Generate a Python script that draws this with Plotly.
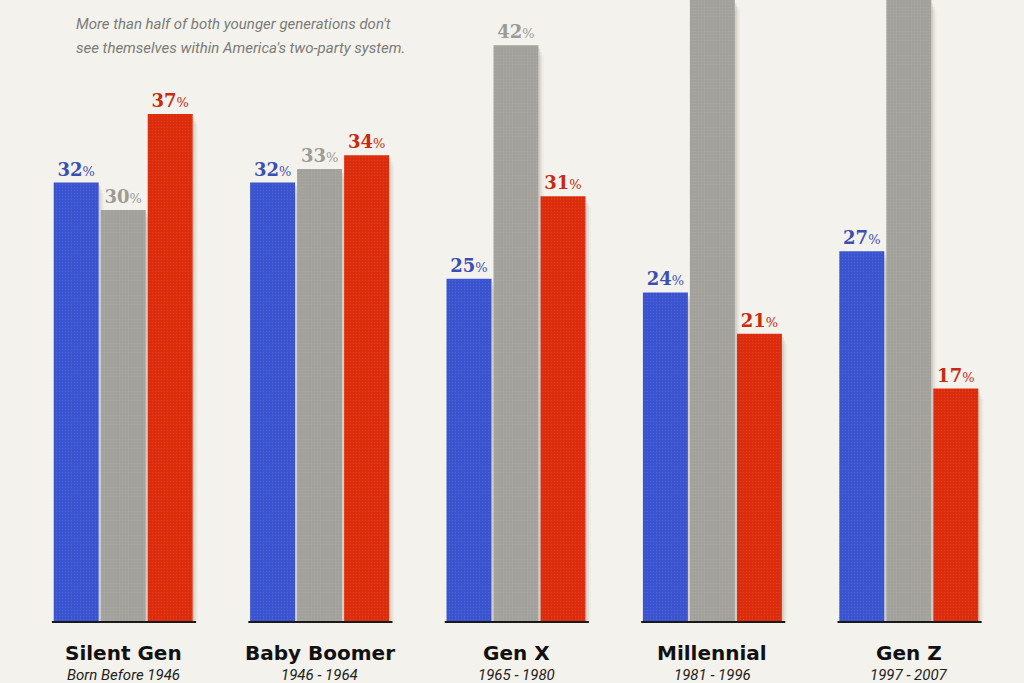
import plotly.graph_objects as go

categories = ["Silent Gen", "Baby Boomer", "Gen X", "Millennial", "Gen Z"]
subtitles = ["Born Before 1946", "1946 - 1964", "1965 - 1980", "1981 - 1996", "1997 - 2007"]
democrat = [32, 32, 25, 24, 27]
independent = [30, 33, 42, 52, 56]
republican = [37, 34, 31, 21, 17]
note_lines = [
    "More than half of both younger generations don't",
    "see themselves within America's two-party system.",
]
y_top = 45.3

series = [
    ("Democrat", democrat, "#3a53cf", "#3b4fb3"),
    ("Independent", independent, "#a2a19c", "#9c9b96"),
    ("Republican", republican, "#dc2c0b", "#c8290f"),
]

BARGAP = 0.282
GROUPGAP = 0.043
slot = (1 - BARGAP) / 3
hw = slot * (1 - GROUPGAP) / 2

fig = go.Figure()
for j, (name, vals, col, tcol) in enumerate(series):
    texts = [
        f"<b>{v}</b><span style='font-size:13px'>%</span>" if v < y_top - 2 else ""
        for v in vals
    ]
    fig.add_trace(go.Bar(
        name=name, x=categories, y=vals,
        marker=dict(color=col, line=dict(width=0),
                    pattern=dict(shape=".", fgcolor="rgba(255,255,255,0.18)", size=3, solidity=0.15)),
        text=texts, textposition="outside", cliponaxis=True,
        textfont=dict(family="DejaVu Serif", size=18, color=tcol),
        hoverinfo="skip",
    ))

shapes = []
# soft drop shadows on the right side of each bar
for j, (name, vals, col, tcol) in enumerate(series):
    for i, v in enumerate(vals):
        c = i + (j - 1) * slot
        for k, a in enumerate([0.10, 0.06, 0.03]):
            shapes.append(dict(
                type="rect", xref="x", yref="y", layer="below",
                x0=c + hw, x1=c + hw + 0.009 * (k + 1),
                y0=0, y1=min(v, y_top) - 0.25 * (k + 1),
                fillcolor=f"rgba(60,50,40,{a})", line=dict(width=0),
            ))
# dark baseline under each group
for i in range(len(categories)):
    shapes.append(dict(
        type="line", xref="x", yref="paper",
        x0=i - 3 * slot / 2 - 0.004, x1=i + 3 * slot / 2 + 0.012, y0=0, y1=0,
        line=dict(color="#1a1a1a", width=2),
    ))

annotations = []
for i, (cat, sub) in enumerate(zip(categories, subtitles)):
    annotations.append(dict(
        x=cat, y=0, xref="x", yref="paper", yanchor="middle", yshift=-31,
        text=f"<b>{cat}</b>", showarrow=False,
        font=dict(family="DejaVu Sans", size=20, color="#111111"),
    ))
    annotations.append(dict(
        x=cat, y=0, xref="x", yref="paper", yanchor="middle", yshift=-53,
        text=f"<i>{sub}</i>", showarrow=False,
        font=dict(family="Roboto", size=15, color="#222222"),
    ))

plot_w = 1024 - 25 - 17
for k, line in enumerate(note_lines):
    annotations.append(dict(
        x=(74 - 25) / plot_w, y=(622 - (24 + 24 * k)) / 622,
        xref="paper", yref="paper", xanchor="left", yanchor="middle",
        text=f"<i>{line}</i>", showarrow=False, align="left",
        font=dict(family="Roboto", size=15, color="#7b7b78"),
    ))

fig.update_layout(
    width=1024, height=683,
    margin=dict(l=25, r=17, t=0, b=61),
    barmode="group", bargap=BARGAP, bargroupgap=GROUPGAP,
    paper_bgcolor="#f4f2ec", plot_bgcolor="#f4f2ec",
    showlegend=False,
    xaxis=dict(showticklabels=False, showgrid=False, zeroline=False, showline=False, ticks=""),
    yaxis=dict(range=[0, y_top], visible=False, showgrid=False, zeroline=False),
    shapes=shapes, annotations=annotations,
)

fig.write_html("out.html")
